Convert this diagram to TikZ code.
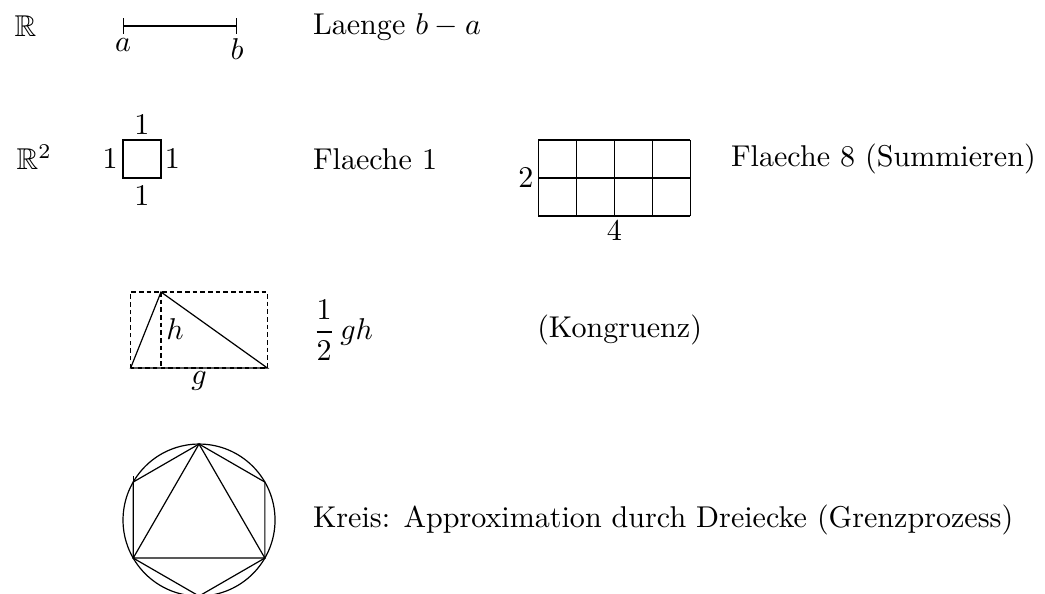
\documentclass[tikz,border=0pt]{standalone}
\usepackage{amssymb}
\begin{document}
\begin{tikzpicture}[x=.444cm, y=.444cm, hilfs/.style={dash pattern=on 1.5pt off 1.05pt}]
\useasboundingbox (-3.237,-10.92) rectangle (24.26,4.684);
\node[right](R1) at (-3.13,4){$\mathbb{R}$};
\draw[|-|](0,4)node[below=.7pt](a){$a$}--(3,4)node[below=.7pt](b){$b$};
\node[right](laenge) at (4.72,3.96){Laenge $b-a$};

\node[right](R2) at (-3.08,.55){$\mathbb{R}^2$};
\draw(0,0)rectangle(1,1);
\node(s1) at (.5,1.39){$1$};
\node(s2) at (.5,-.47){$1$};
\node(s3) at (-.34,.5){$1$};
\node(s4) at (1.3,.5){$1$};
\node[right](fl1) at (4.72,.5){Flaeche 1};
\draw[step=1, shift={(10.93,0)}](0,-1)grid(4,1);
\node(n2) at (10.6,0){$2$};
\node(n4) at (12.93,-1.39){$4$};
\node[right](fl8) at (15.72,.5){Flaeche 8 (Summieren)};

\draw[hilfs](.2,-5)rectangle(3.8,-3);
\draw[hilfs](1,-3)--(1,-5);
\draw(.2,-5)--(1,-3)--(3.8,-5)--cycle;
\node(h) at (1.37,-3.97){$h$};
\node(g) at (2,-5.34){$g$};
\node[right](dreieck) at (4.72,-4){$\displaystyle\frac{1}{2}\,gh$};
\node[right](kong) at (10.62,-4){(Kongruenz)};

\draw(2,-9)circle(2);
\draw(2,-7)--(3.732,-8)--(3.732,-10)--(2,-11)--(.268,-10)--(.268,-8)--cycle;
\draw(2,-7)--(3.732,-10)--(.268,-10)--cycle;
\draw(.268,-8)--(.268,-7.85);
\node[right](kreis) at (4.72,-9){Kreis: Approximation durch Dreiecke (Grenzprozess)};

\end{tikzpicture}
\end{document}
